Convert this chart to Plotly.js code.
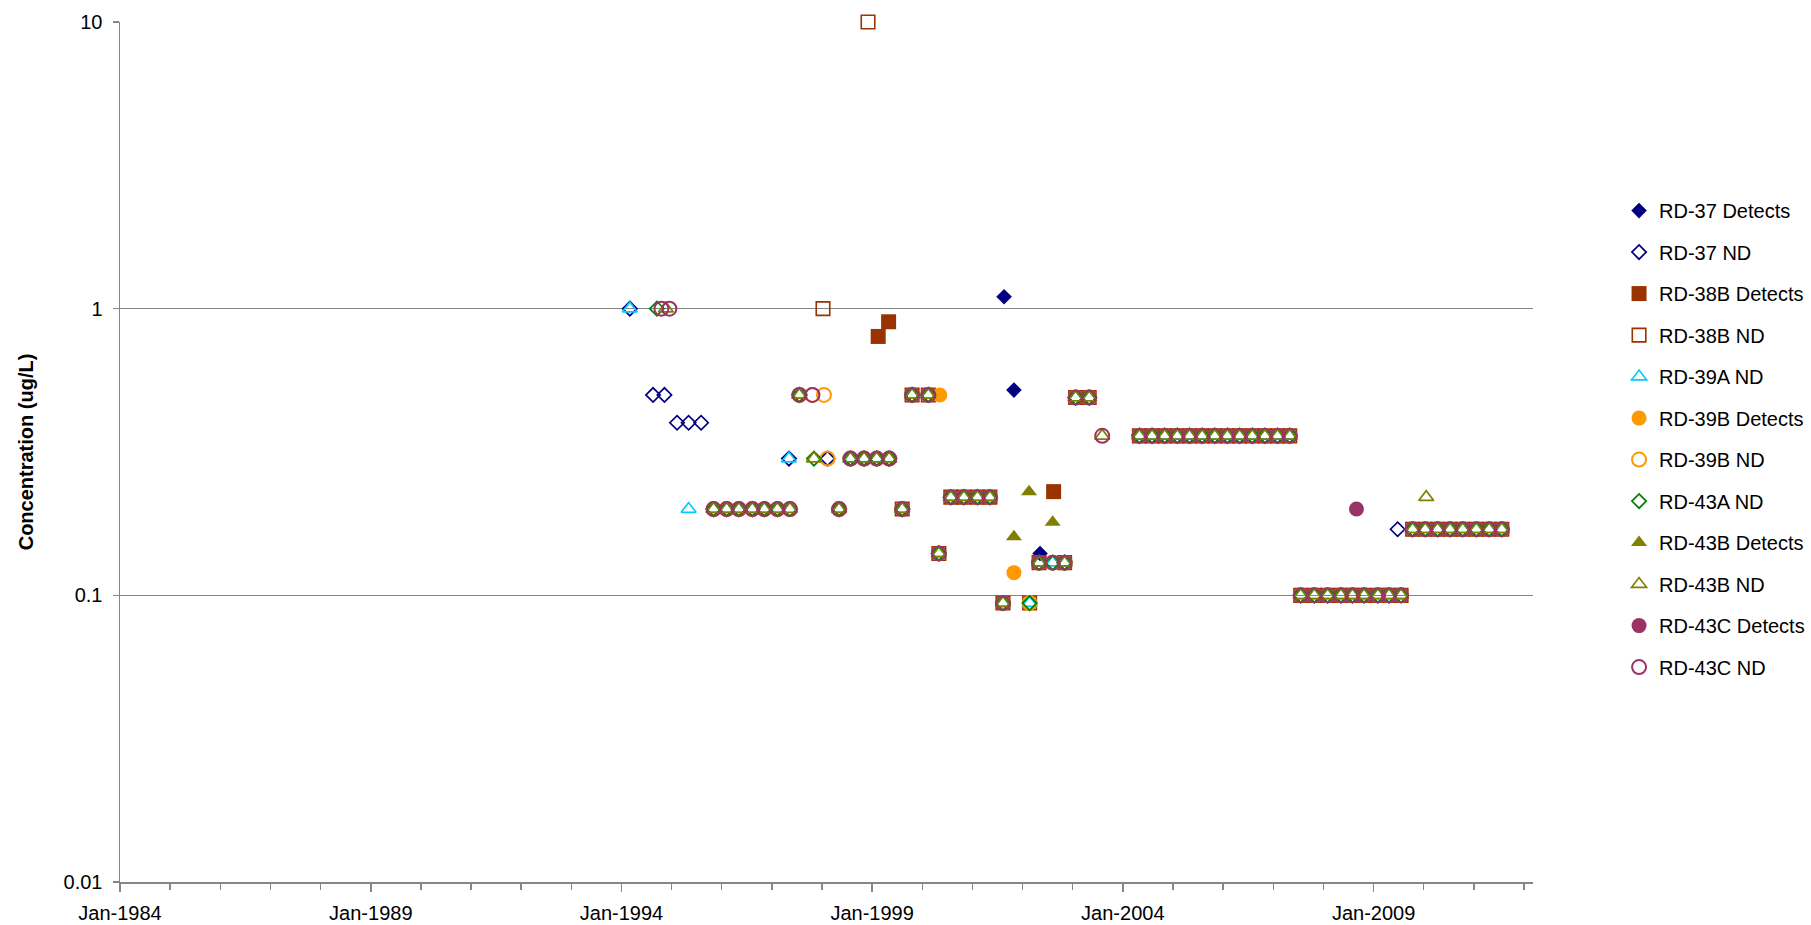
<!DOCTYPE html>
<html>
<head>
<meta charset="utf-8">
<script src="https://cdn.plot.ly/plotly-3.0.1.min.js"></script>
<style>html,body{margin:0;padding:0;background:#fff;}#chart{width:1811px;height:925px;}</style>
</head>
<body>
<div id="chart"></div>
<script>
// ---- Sampling rounds where the non-detect wells share one reporting limit (ug/L)
const roundDates = [
  '1995-11-03','1996-02-06','1996-05-05','1996-08-11','1996-11-06','1997-02-10','1997-05-12',
  '1997-07-20','1998-05-05','1998-07-27','1998-11-03','1999-02-03','1999-05-05',
  '1999-08-08','1999-10-19','2000-02-14','2000-05-01',
  '2000-07-27','2000-10-30','2001-02-06','2001-05-08',
  '2001-08-11','2002-02-21','2002-05-01','2002-08-08','2002-11-03',
  '2003-01-22','2003-05-01',
  '2004-05-01','2004-08-01','2004-11-01','2005-02-01','2005-05-01','2005-08-01','2005-11-01',
  '2006-02-01','2006-05-01','2006-08-01','2006-11-01','2007-02-01','2007-05-01',
  '2007-07-20','2007-10-27','2008-02-01','2008-05-08','2008-07-31','2008-10-23','2009-02-01','2009-04-23','2009-07-20',
  '2009-10-12','2010-01-12','2010-04-12','2010-07-12','2010-10-12','2011-01-19','2011-04-23','2011-07-24'
];
const roundLimits = [
  0.2,0.2,0.2,0.2,0.2,0.2,0.2,
  0.5,0.2,0.3,0.3,0.3,0.3,
  0.2,0.5,0.5,0.14,
  0.22,0.22,0.22,0.22,
  0.094,0.094,0.13,0.13,0.13,
  0.49,0.49,
  0.36,0.36,0.36,0.36,0.36,0.36,0.36,
  0.36,0.36,0.36,0.36,0.36,0.36,
  0.1,0.1,0.1,0.1,0.1,0.1,0.1,0.1,0.1,
  0.17,0.17,0.17,0.17,0.17,0.17,0.17,0.17
];
// rounds in which a well was not reported as ND at the shared limit
const skip37  = ['1997-05-12','2001-08-11','2002-02-21','2002-05-01','2002-08-08','2009-07-20'];
const skip38B = ['1995-11-03','1996-02-06','1996-05-05','1996-08-11','1996-11-06','1997-02-10','1997-05-12',
                 '1997-07-20','1998-05-05','1998-07-27','1998-11-03','1999-02-03','1999-05-05','2002-08-08'];
const skip39A = ['1997-05-12'];
const skip39B = ['2000-05-01'];
const skip43A = [];
const skip43B = ['2002-02-21','2002-08-08'];
const skip43C = ['2002-02-21'];

// ---- Additional individual results
const rd37DetX  = ['2001-08-19','2001-10-30','2002-05-08'];
const rd37DetY  = [1.1, 0.52, 0.14];
const rd37NdX   = ['1994-03-03','1994-08-19','1994-11-10','1995-02-10','1995-05-05','1995-08-04','1997-05-05','1998-02-10','2009-06-25'];
const rd37NdY   = [1, 0.5, 0.5, 0.4, 0.4, 0.4, 0.3, 0.3, 0.17];
const rd38bDetX = ['1999-02-14','1999-05-01','2002-08-15'];
const rd38bDetY = [0.8, 0.9, 0.23];
const rd38bNdX  = ['1998-01-08','1998-12-02'];
const rd38bNdY  = [1, 10];
const rd39aNdX  = ['1994-03-03','1995-05-05','1997-05-05'];
const rd39aNdY  = [1, 0.2, 0.3];
const rd39bDetX = ['2000-05-08','2001-10-30'];
const rd39bDetY = [0.5, 0.12];
const rd39bNdX  = ['1997-10-23','1998-01-15','1998-02-10'];
const rd39bNdY  = [0.5, 0.5, 0.3];
const rd43aNdX  = ['1994-09-16','1997-11-03'];
const rd43aNdY  = [1, 0.3];
const rd43bDetX = ['2001-10-30','2002-02-17','2002-08-08'];
const rd43bDetY = [0.16, 0.23, 0.18];
const rd43bNdX  = ['1994-11-20','1997-11-03','2003-08-04','2010-01-19'];
const rd43bNdY  = [1, 0.3, 0.36, 0.22];
const rd43cDetX = ['2008-08-29'];
const rd43cDetY = [0.2];
const rd43cNdX  = ['1994-10-19','1994-12-16','1997-10-23','2003-08-04'];
const rd43cNdY  = [1, 1, 0.5, 0.36];

const seriesNames = ['RD-37 Detects','RD-37 ND','RD-38B Detects','RD-38B ND','RD-39A ND','RD-39B Detects',
                     'RD-39B ND','RD-43A ND','RD-43B Detects','RD-43B ND','RD-43C Detects','RD-43C ND'];
const yTickVals = [0.01, 0.1, 1, 10];
const yTickText = ['0.01', '0.1', '1', '10'];

function ndSeries(skip, ex, ey) {
  const x = [], y = [];
  ex.forEach((d, i) => { x.push(d); y.push(ey[i]); });
  roundDates.forEach((d, i) => { if (!skip.includes(d)) { x.push(d); y.push(roundLimits[i]); } });
  return {x, y};
}

const C37 = '#000080', C38 = '#993300', C39A = '#00CCFF', C39B = '#FF9900',
      C43A = '#008000', C43B = '#808000', C43C = '#993366';

function tr(name, xy, symbol, color, size, open, lw) {
  return {
    type: 'scatter', mode: 'markers', name: name, legendgroup: name,
    x: xy.x, y: xy.y, cliponaxis: false,
    marker: open
      ? {symbol: symbol, size: size, color: color, line: {color: color, width: lw || 1.7}}
      : {symbol: symbol, size: size, color: color, line: {color: color, width: 0}}
  };
}

const traces = [
  tr(seriesNames[0], {x: rd37DetX, y: rd37DetY}, 'diamond', C37, 12, false),
  tr(seriesNames[1], ndSeries(skip37, rd37NdX, rd37NdY), 'diamond-open', C37, 11, true),
  tr(seriesNames[2], {x: rd38bDetX, y: rd38bDetY}, 'square', C38, 15, false),
  tr(seriesNames[3], ndSeries(skip38B, rd38bNdX, rd38bNdY), 'square-open', C38, 13.5, true, 1.6),
  tr(seriesNames[4], ndSeries(skip39A, rd39aNdX, rd39aNdY), 'triangle-up-open', C39A, 13, true),
  tr(seriesNames[5], {x: rd39bDetX, y: rd39bDetY}, 'circle', C39B, 15, false),
  tr(seriesNames[6], ndSeries(skip39B, rd39bNdX, rd39bNdY), 'circle-open', C39B, 14, true, 2),
  tr(seriesNames[7], ndSeries(skip43A, rd43aNdX, rd43aNdY), 'diamond-open', C43A, 11, true),
  tr(seriesNames[8], {x: rd43bDetX, y: rd43bDetY}, 'triangle-up', C43B, 14, false),
  tr(seriesNames[9], ndSeries(skip43B, rd43bNdX, rd43bNdY), 'triangle-up-open', C43B, 13, true),
  tr(seriesNames[10], {x: rd43cDetX, y: rd43cDetY}, 'circle', C43C, 15, false),
  tr(seriesNames[11], ndSeries(skip43C, rd43cNdX, rd43cNdY), 'circle-open', C43C, 14, true, 2)
];

const layout = {
  width: 1811, height: 925,
  margin: {l: 120, r: 278, t: 22, b: 43, pad: 0, autoexpand: false},
  paper_bgcolor: '#ffffff', plot_bgcolor: '#ffffff',
  font: {family: 'Liberation Sans, Arial, sans-serif', size: 20, color: '#000000'},
  showlegend: true,
  hovermode: false,
  legend: {
    x: 1.0609, xanchor: 'left', y: 0.8034, yanchor: 'top',
    font: {size: 20, color: '#000000'},
    tracegroupgap: 12.5, bgcolor: 'rgba(0,0,0,0)', borderwidth: 0
  },
  xaxis: {
    type: 'date',
    range: ['1984-01-01', '2012-03-07'],
    tickmode: 'linear', tick0: '1984-01-01', dtick: 'M60', tickformat: '%b-%Y',
    ticks: 'outside', ticklen: 8, tickwidth: 1.5, tickcolor: '#868686',
    ticklabelstandoff: 4,
    minor: {dtick: 'M12', tick0: '1984-01-01', ticks: 'outside', ticklen: 6, tickwidth: 1.5, tickcolor: '#868686', showgrid: false},
    showline: true, linecolor: '#868686', linewidth: 1.5,
    showgrid: false, zeroline: false, automargin: false,
    tickfont: {size: 20, color: '#000000'}
  },
  yaxis: {
    type: 'log',
    range: [-2, 1],
    tickmode: 'array', tickvals: yTickVals, ticktext: yTickText,
    ticks: 'outside', ticklen: 6, tickwidth: 1.5, tickcolor: '#868686',
    ticklabelstandoff: 6,
    showline: true, linecolor: '#868686', linewidth: 1.5,
    showgrid: true, gridcolor: '#868686', gridwidth: 1.5,
    zeroline: false, automargin: false,
    tickfont: {size: 20, color: '#000000'},
    title: {text: '<b>Concentration (ug/L)</b>', font: {size: 20, color: '#000000'}, standoff: 24}
  }
};

Plotly.newPlot('chart', traces, layout, {staticPlot: true, displayModeBar: false});
</script>
</body>
</html>
